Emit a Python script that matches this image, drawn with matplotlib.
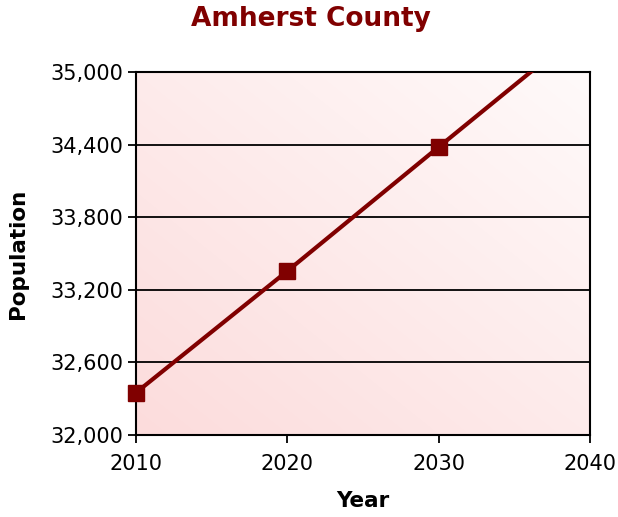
import numpy as np
import matplotlib
matplotlib.use('Agg')
import matplotlib.pyplot as plt
from matplotlib.colors import LinearSegmentedColormap

# Datos
years = [2010, 2020, 2030, 2040]
population = [32350, 33355, 34380, 35400]
y_ticks = [32000, 32600, 33200, 33800, 34400, 35000]
x_ticks = [2010, 2020, 2030, 2040]

dark_red = '#800000'
plt.rcParams['font.family'] = ['DejaVu Sans']

fig = plt.figure(figsize=(6.18, 5.17), dpi=100)
W, H = 618, 517
ax = fig.add_axes([136 / W, (H - 435) / H, (590 - 136) / W, (435 - 72) / H])

# Fondo degradado: rosa abajo a la izquierda, casi blanco arriba a la derecha
gx, gy = np.meshgrid(np.linspace(0, 1, 200), np.linspace(0, 1, 200))
grad = (gx + gy) / 2
cmap = LinearSegmentedColormap.from_list('bg', ['#fcdcdc', '#fffafa'])
ax.imshow(grad, cmap=cmap, extent=[2010, 2040, 32000, 35000], origin='lower',
          aspect='auto', zorder=0, interpolation='bicubic')

for t in y_ticks[1:-1]:
    ax.axhline(t, color='black', lw=1.3, zorder=1)

ax.plot(years, population, color=dark_red, lw=3, zorder=3, clip_on=True)
ax.plot(years[:3], population[:3], 's', color=dark_red, ms=11, zorder=4,
        clip_on=False)

ax.set_xlim(2010, 2040)
ax.set_ylim(32000, 35000)
ax.set_xticks(x_ticks)
ax.set_yticks(y_ticks)
ax.set_yticklabels([f'{v:,}' for v in y_ticks])
ax.tick_params(axis='both', direction='out', length=6, width=1.3,
               labelsize=15, top=False, right=False, pad=3)
ax.tick_params(axis='x', pad=8)
for s in ax.spines.values():
    s.set_linewidth(1.5)

ax.set_xlabel('Year', fontsize=15.5, fontweight='bold', labelpad=12)
ax.set_ylabel('Population', fontsize=15.5, fontweight='bold', labelpad=16)
fig.suptitle('Amherst County', x=311 / W, y=1 - 19 / H,
             va='center', fontsize=19, fontweight='bold', color=dark_red)

fig.savefig('out.png', dpi=100)
